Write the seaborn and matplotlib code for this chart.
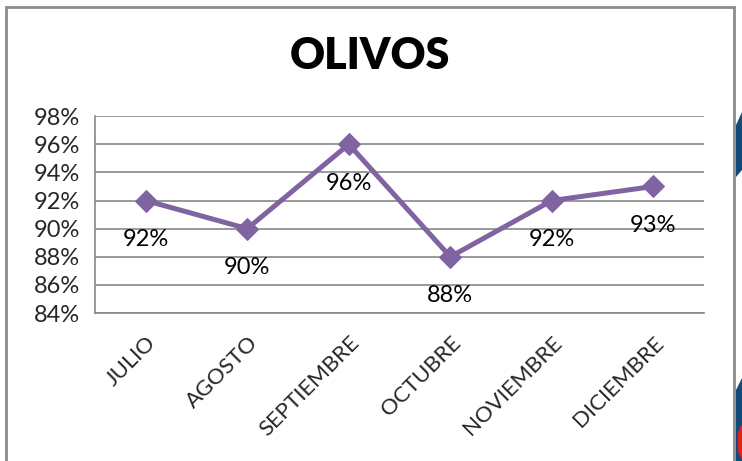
import matplotlib.pyplot as plt
import matplotlib.patches as mpatches
import numpy as np
import pandas as pd
import seaborn as sns
from matplotlib.ticker import FuncFormatter

meses = ["JULIO", "AGOSTO", "SEPTIEMBRE", "OCTUBRE", "NOVIEMBRE", "DICIEMBRE"]
porcentaje = [0.92, 0.90, 0.96, 0.88, 0.92, 0.93]
y_ticks = [0.84, 0.86, 0.88, 0.90, 0.92, 0.94, 0.96, 0.98]

df = pd.DataFrame({"MES": meses, "PCT": porcentaje})

sns.set_style("white")
plt.rcParams["font.family"] = ["Lato", "DejaVu Sans"]

fig = plt.figure(figsize=(7.42, 4.61), dpi=100)
ax = fig.add_axes([0.128, 0.321, 0.821, 0.427])

purple = "#8064A2"
sns.lineplot(data=df, x="MES", y="PCT", ax=ax, color=purple, linewidth=3.6,
             marker="D", markersize=11, markeredgecolor=purple, sort=False)

for i, v in enumerate(porcentaje):
    ax.annotate(f"{v*100:.0f}%", (i, v), xytext=(0, -28), textcoords="offset points",
                ha="center", va="center", fontsize=17, color="black")

ax.set_xlim(-0.5, len(meses) - 0.5)
ax.set_ylim(0.84, 0.98)
ax.set_yticks(y_ticks)
ax.yaxis.set_major_formatter(FuncFormatter(lambda v, p: f"{v*100:.0f}%"))
ax.set_xticks(range(len(meses)))
ax.set_xticklabels(meses, rotation=45, ha="right", rotation_mode="anchor", fontsize=16)
ax.set_xticks(np.arange(-0.5, len(meses)), minor=True)
ax.tick_params(axis="x", which="major", length=0, pad=14)
ax.tick_params(axis="x", which="minor", length=8, color="#878787", width=1.2)
ax.tick_params(axis="y", length=8, color="#878787", width=1.2, labelsize=17, pad=3)
ax.set_xlabel("")
ax.set_ylabel("")

ax.grid(axis="y", color="#878787", linewidth=1.2)
ax.set_axisbelow(True)
for s in ["top", "right"]:
    ax.spines[s].set_visible(False)
for s in ["left", "bottom"]:
    ax.spines[s].set_color("#878787")
    ax.spines[s].set_linewidth(1.2)

fig.text(0.499, 0.878, "OLIVOS", ha="center", va="center", fontsize=31,
         fontweight="heavy", color="black")

# chart frame
fig.patches.append(mpatches.Rectangle((6 / 742, -0.05), 728 / 742, 1.05 - 7 / 461,
                                      transform=fig.transFigure, fill=False,
                                      edgecolor="#8c8c8c", linewidth=2))

# bits of the slide background showing on the right edge
W, H = 742, 461
blue = "#124a7a"
fig.patches.append(mpatches.Polygon([(742 / W, 1 - 112 / H), (736 / W, 1 - 125 / H),
                                     (736 / W, 1 - 177 / H), (742 / W, 1 - 170 / H)],
                                    closed=True, transform=fig.transFigure,
                                    facecolor=blue, edgecolor="none"))
fig.patches.append(mpatches.Polygon([(742 / W, 1 - 378 / H), (736 / W, 1 - 390 / H),
                                     (736 / W, 0), (742 / W, 0)],
                                    closed=True, transform=fig.transFigure,
                                    facecolor=blue, edgecolor="none"))
fig.patches.append(mpatches.Polygon([(742 / W, 1 - 424 / H), (738 / W, 1 - 432 / H),
                                     (738 / W, 1 - 452 / H), (742 / W, 1 - 460 / H)],
                                    closed=True, transform=fig.transFigure,
                                    facecolor="#e02020", edgecolor="none"))

fig.savefig("out.png", dpi=100)
